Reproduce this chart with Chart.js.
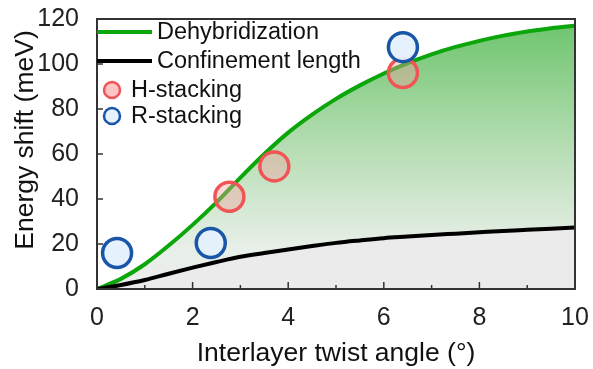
<!DOCTYPE html>
<html>
<head>
<meta charset="utf-8">
<script src="https://cdn.jsdelivr.net/npm/chart.js@4"></script>
<style>
  body { margin: 0; background: #fff; }
  #wrap { width: 593px; height: 369px; }
</style>
</head>
<body>
<div id="wrap"><canvas id="Chart" width="593" height="369"></canvas></div>
<script>
// twist angle samples for the two model curves
const angles = [0, 0.5, 1, 1.5, 2, 2.5, 3, 3.5, 4, 4.5, 5, 5.5, 6, 6.5, 7, 7.5, 8, 8.5, 9, 9.5, 10];
const dehybridization = [0, 4.5, 11, 19.3, 28.5, 38.5, 49.5, 60, 69.5, 77.5, 84.5, 90.5, 95.8, 100.4, 104.3, 107.6, 110.3, 112.6, 114.4, 115.9, 117];
const confinement = [0, 1.8, 4, 6.8, 9.5, 12, 14.3, 16, 17.6, 19.1, 20.5, 21.6, 22.6, 23.3, 24, 24.6, 25.2, 25.8, 26.3, 26.8, 27.3];

// measured points
const hAngles = [2.77, 3.71, 6.4];
const hShift = [41, 54.5, 96];
const rAngles = [0.42, 2.38, 6.4];
const rShift = [16, 20.4, 107.5];

const xTicks = [0, 2, 4, 6, 8, 10];
const yTicks = [0, 20, 40, 60, 80, 100, 120];

const FONT = "'Liberation Sans', Arial, sans-serif";
const GREEN = "#0aa60a";

function pts(xs, ys) {
    return xs.map((x, i) => ({ x: x, y: ys[i] }));
}

// green area gradient, from green at the top to light grey at the bottom
function greenFill(context) {
    const area = context.chart.chartArea;
    if (!area) return "rgba(120,200,120,0.6)";
    const g = context.chart.ctx.createLinearGradient(0, area.top, 0, area.bottom);
    g.addColorStop(0, "rgb(108,196,108)");
    g.addColorStop(0.45, "rgb(178,220,176)");
    g.addColorStop(0.85, "rgb(232,239,232)");
    g.addColorStop(1, "rgb(236,236,236)");
    return g;
}

// frame, inward ticks, legend and axis titles drawn over the chart
const decorations = {
    id: "decorations",
    afterDraw(chart) {
        const ctx = chart.ctx;
        const a = chart.chartArea;
        const xs = chart.scales.x;
        const ys = chart.scales.y;
        ctx.save();
        ctx.strokeStyle = "#333";
        ctx.lineWidth = 2;
        ctx.strokeRect(a.left, a.top, a.right - a.left, a.bottom - a.top);

        ctx.lineWidth = 1.5;
        for (let v = 1; v < 10; v++) {
            const px = xs.getPixelForValue(v);
            const len = v % 2 === 0 ? 7 : 4;
            ctx.beginPath();
            ctx.moveTo(px, a.bottom);
            ctx.lineTo(px, a.bottom - len);
            ctx.stroke();
        }
        for (let v = 20; v < 120; v += 20) {
            const py = ys.getPixelForValue(v);
            ctx.beginPath();
            ctx.moveTo(a.left, py);
            ctx.lineTo(a.left + 6, py);
            ctx.stroke();
        }

        // legend
        ctx.font = "23.5px " + FONT;
        ctx.textBaseline = "middle";
        ctx.fillStyle = "#111";
        ctx.lineCap = "butt";
        ctx.lineWidth = 4;
        ctx.strokeStyle = GREEN;
        ctx.beginPath(); ctx.moveTo(a.left, 32); ctx.lineTo(a.left + 55, 32); ctx.stroke();
        ctx.fillText("Dehybridization", a.left + 60, 33);
        ctx.strokeStyle = "#000";
        ctx.beginPath(); ctx.moveTo(a.left, 61); ctx.lineTo(a.left + 55, 61); ctx.stroke();
        ctx.fillText("Confinement length", a.left + 60, 62);

        ctx.lineWidth = 2.5;
        ctx.beginPath(); ctx.arc(112, 90, 8, 0, Math.PI * 2);
        ctx.fillStyle = "rgba(255,190,190,0.9)"; ctx.fill();
        ctx.strokeStyle = "#f05454"; ctx.stroke();
        ctx.beginPath(); ctx.arc(112, 116, 8, 0, Math.PI * 2);
        ctx.fillStyle = "#e6f1fc"; ctx.fill();
        ctx.strokeStyle = "#1a56a8"; ctx.stroke();
        ctx.fillStyle = "#111";
        ctx.fillText("H-stacking", 131, 91);
        ctx.fillText("R-stacking", 131, 117);

        // axis titles
        ctx.font = "26.5px " + FONT;
        ctx.textAlign = "center";
        ctx.fillText("Interlayer twist angle (°)", (a.left + a.right) / 2, 354);
        ctx.translate(26, 140);
        ctx.rotate(-Math.PI / 2);
        ctx.fillText("Energy shift (meV)", 0, 0);
        ctx.restore();
    }
};

const config = new Chart(document.getElementById("Chart"), {
    type: "scatter",
    data: {
        datasets: [
            {
                label: "R-stacking",
                data: pts(rAngles, rShift),
                pointRadius: 14.5,
                borderWidth: 3.5,
                borderColor: "#1a56a8",
                backgroundColor: "rgba(228,240,252,0.95)",
                order: 0
            },
            {
                label: "H-stacking",
                data: pts(hAngles, hShift),
                pointRadius: 14.5,
                borderWidth: 3.5,
                borderColor: "#f05454",
                backgroundColor: "rgba(245,160,160,0.4)",
                order: 1
            },
            {
                type: "line",
                label: "Confinement length",
                data: pts(angles, confinement),
                borderColor: "#000",
                borderWidth: 4,
                pointRadius: 0,
                cubicInterpolationMode: "monotone",
                fill: "origin",
                backgroundColor: "rgb(235,235,235)",
                order: 2
            },
            {
                type: "line",
                label: "Dehybridization",
                data: pts(angles, dehybridization),
                borderColor: GREEN,
                borderWidth: 4,
                pointRadius: 0,
                cubicInterpolationMode: "monotone",
                fill: "origin",
                backgroundColor: greenFill,
                order: 3
            }
        ]
    },
    options: {
        responsive: false,
        animation: false,
        events: [],
        layout: { padding: 0 },
        plugins: {
            legend: { display: false },
            tooltip: { enabled: false }
        },
        scales: {
            x: {
                type: "linear",
                min: 0,
                max: 10,
                grid: { display: false },
                border: { display: false },
                afterBuildTicks: s => { s.ticks = xTicks.map(v => ({ value: v })); },
                ticks: { font: { family: FONT, size: 25 }, color: "#222", padding: 6, maxRotation: 0 },
                // fixed plot box: right edge at 577
                afterFit: s => { s.height = 80; s.paddingRight = 16; s.paddingLeft = 0; }
            },
            y: {
                min: 0,
                max: 120,
                grid: { display: false },
                border: { display: false },
                afterBuildTicks: s => { s.ticks = yTicks.map(v => ({ value: v })); },
                ticks: { font: { family: FONT, size: 25 }, color: "#222", padding: 10 },
                // fixed plot box: top edge at 19
                afterFit: s => { s.width = 97; s.paddingTop = 19; s.paddingBottom = 0; }
            }
        }
    },
    plugins: [decorations]
});
</script>
</body>
</html>
